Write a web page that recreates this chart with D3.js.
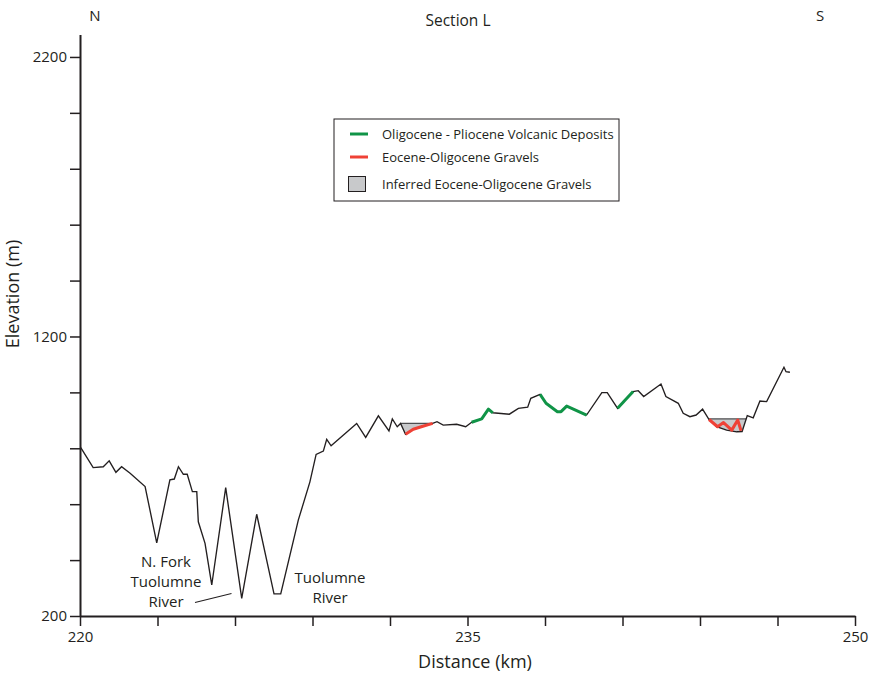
<!DOCTYPE html>
<html>
<head>
<meta charset="utf-8">
<script src="https://cdn.jsdelivr.net/npm/d3@7"></script>
<style>
  body { margin: 0; background: #fff; }
  svg { display: block; font-family: "Open Sans", sans-serif; }
</style>
</head>
<body>
<svg id="chart" width="875" height="677"></svg>
<script>
// Axis ticks (km along section, metres of elevation)
const xTicks = d3.range(220, 251, 3);
const xTickLabels = [220, 235, 250];
const yTicks = d3.range(200, 2201, 200);
const yTickLabels = [200, 1200, 2200];

// Topographic profile along Section L: [distance km, elevation m]
const profile = [
  [220.03, 802], [220.51, 731], [220.90, 734], [221.13, 755], [221.39, 714],
  [221.61, 734], [221.94, 711], [222.52, 663], [222.97, 462], [223.48, 687],
  [223.65, 690], [223.81, 734], [224.00, 707], [224.15, 707], [224.35, 645],
  [224.52, 645], [224.58, 537], [224.84, 460], [225.10, 311], [225.64, 659],
  [226.26, 263], [226.84, 564], [227.51, 279], [227.77, 279], [228.45, 543],
  [228.90, 680], [229.14, 778], [229.42, 790], [229.55, 832], [229.72, 809],
  [230.71, 889], [231.06, 839], [231.55, 916], [231.96, 862], [232.09, 905],
  [232.28, 877], [232.41, 889], [232.60, 850], [232.90, 868], [233.24, 878],
  [233.65, 889], [233.82, 895], [234.06, 883], [234.58, 886], [234.93, 877],
  [235.16, 893], [235.55, 905], [235.81, 940], [235.98, 927], [236.62, 922],
  [236.97, 943], [237.33, 947], [237.45, 979], [237.81, 993], [238.04, 961],
  [238.48, 931], [238.62, 931], [238.84, 951], [239.61, 919], [240.20, 999],
  [240.41, 999], [240.81, 943], [241.41, 1003], [241.61, 1006], [241.82, 985],
  [242.49, 1030], [242.68, 985], [243.16, 961], [243.35, 925], [243.61, 913],
  [243.85, 919], [244.10, 940], [244.35, 903], [244.64, 877], [245.03, 865],
  [245.42, 859], [245.63, 860], [245.83, 917], [246.06, 909], [246.32, 969],
  [246.58, 967], [247.25, 1090], [247.33, 1074], [247.48, 1072]
];

// Oligocene - Pliocene volcanic deposits on the surface
const volcanicDeposits = [
  [[235.16, 893], [235.55, 905], [235.81, 940], [235.98, 927]],
  [[237.81, 993], [238.04, 961], [238.48, 931], [238.62, 931], [238.84, 951], [239.61, 919]],
  [[240.81, 943], [241.41, 1003]]
];

// Eocene-Oligocene gravels
const gravels = [
  [[232.60, 850], [232.90, 868], [233.24, 878], [233.65, 889]],
  [[244.35, 903], [244.68, 877], [244.91, 892], [245.23, 865], [245.46, 901], [245.59, 863]]
];

// Inferred gravel bodies; the first two vertices are the flat upper surface
const inferredGravels = [
  [[232.41, 889], [233.65, 889], [233.24, 878], [232.90, 868], [232.60, 850]],
  [[244.35, 905], [245.79, 905], [245.63, 860], [245.42, 859], [245.03, 865], [244.64, 877]]
];

const legendItems = [
  { label: "Oligocene - Pliocene Volcanic Deposits", kind: "volcanic" },
  { label: "Eocene-Oligocene Gravels", kind: "gravel" },
  { label: "Inferred Eocene-Oligocene Gravels", kind: "inferred" }
];

const ink = "#231f20";
const green = "#109447";
const red = "#ef4136";
const grey = "#c8c9cb";

const svg = d3.select("#chart");
const x = d3.scaleLinear().domain([220, 250]).range([80, 855]);
const y = d3.scaleLinear().domain([200, 2280]).range([616, 34.6]);

const line = d3.line().x(d => x(d[0])).y(d => y(d[1]));

// Inferred gravel fills
svg.append("g").selectAll("path.fill")
  .data(inferredGravels).join("path")
  .attr("d", d => line(d) + "Z")
  .attr("fill", grey).attr("stroke", "none");
svg.append("g").selectAll("path.top")
  .data(inferredGravels).join("path")
  .attr("d", d => line(d.slice(0, 2)))
  .attr("fill", "none").attr("stroke", "#4d4d4f").attr("stroke-width", 1.2);

// Ground surface
svg.append("path").datum(profile)
  .attr("d", line).attr("fill", "none")
  .attr("stroke", ink).attr("stroke-width", 1.35).attr("stroke-linejoin", "miter");

// Volcanic deposits and gravels
svg.append("g").selectAll("path")
  .data(volcanicDeposits).join("path")
  .attr("d", line).attr("fill", "none")
  .attr("stroke", green).attr("stroke-width", 3).attr("stroke-linejoin", "round");
svg.append("g").selectAll("path")
  .data(gravels).join("path")
  .attr("d", line).attr("fill", "none")
  .attr("stroke", red).attr("stroke-width", 3).attr("stroke-linejoin", "round");

// Axes
const xAxis = d3.axisBottom(x).tickValues(xTicks).tickSize(10).tickSizeOuter(0)
  .tickFormat(d => xTickLabels.includes(d) ? d : "");
const yAxis = d3.axisLeft(y).tickValues(yTicks).tickSize(10).tickSizeOuter(0)
  .tickFormat(d => yTickLabels.includes(d) ? d : "");

const gx = svg.append("g").attr("transform", "translate(0,616)").call(xAxis);
const gy = svg.append("g").attr("transform", "translate(80,0)").call(yAxis);
[gx, gy].forEach(g => {
  g.select(".domain").attr("stroke", ink).attr("stroke-width", 2);
  g.selectAll(".tick line").attr("stroke", ink).attr("stroke-width", 1.5);
  g.selectAll(".tick text").attr("fill", ink).style("font-size", "15px")
    .style("font-family", "'Open Sans', sans-serif");
});
gx.selectAll(".tick text").attr("dy", "0.71em").attr("y", 15);
gy.selectAll(".tick text").attr("x", -13);

// Titles
const title = (txt, tx, ty, size, anchor = "middle") => svg.append("text")
  .attr("x", tx).attr("y", ty).attr("text-anchor", anchor)
  .attr("fill", ink).style("font-size", size + "px").text(txt);
title("N", 95, 21, 15);
title("Section L", 458, 26, 15.5);
title("S", 820, 21, 15);
title("Distance (km)", 475, 668, 18);
svg.append("text")
  .attr("transform", "translate(19,294) rotate(-90)")
  .attr("text-anchor", "middle").attr("fill", ink)
  .style("font-size", "18px").text("Elevation (m)");

// River annotations
const riverA = svg.append("text").attr("text-anchor", "middle").attr("fill", ink)
  .style("font-size", "15px");
["N. Fork", "Tuolumne", "River"].forEach((t, i) =>
  riverA.append("tspan").attr("x", 166).attr("y", 567 + i * 20).text(t));
svg.append("line")
  .attr("x1", 195).attr("y1", 602.5).attr("x2", 231.5).attr("y2", 593.5)
  .attr("stroke", ink).attr("stroke-width", 1.2);
const riverB = svg.append("text").attr("text-anchor", "middle").attr("fill", ink)
  .style("font-size", "15px");
["Tuolumne", "River"].forEach((t, i) =>
  riverB.append("tspan").attr("x", 330).attr("y", 583 + i * 20).text(t));

// Legend
const lg = svg.append("g").attr("transform", "translate(334,119)");
lg.append("rect").attr("width", 285).attr("height", 82)
  .attr("fill", "#fff").attr("stroke", ink).attr("stroke-width", 1);
const rows = lg.selectAll("g.row").data(legendItems).join("g")
  .attr("transform", (d, i) => `translate(0,${[15, 38, 65][i]})`);
rows.each(function (d) {
  const g = d3.select(this);
  if (d.kind === "inferred") {
    g.append("rect").attr("x", 14.5).attr("y", -7.5).attr("width", 17).attr("height", 15)
      .attr("fill", grey).attr("stroke", ink).attr("stroke-width", 1);
  } else {
    g.append("line").attr("x1", 16).attr("x2", 34).attr("y1", 0).attr("y2", 0)
      .attr("stroke", d.kind === "volcanic" ? green : red).attr("stroke-width", 3);
  }
  g.append("text").attr("x", 48).attr("y", 0).attr("dy", "0.35em")
    .attr("fill", ink).style("font-size", "13px").text(d.label);
});
</script>
</body>
</html>
